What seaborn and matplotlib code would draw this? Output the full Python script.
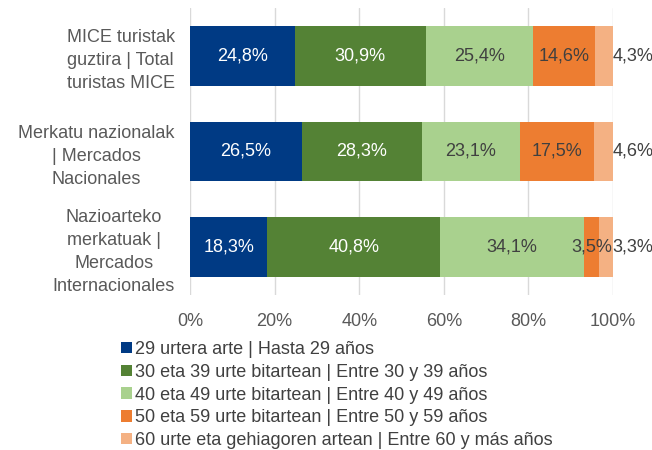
import matplotlib
matplotlib.use("Agg")
import matplotlib.pyplot as plt
import seaborn as sns
import pandas as pd
import numpy as np
from matplotlib.patches import Patch

categories = ["MICE turistak\nguztira | Total\nturistas MICE",
              "Merkatu nazionalak\n| Mercados\nNacionales",
              "Nazioarteko\nmerkatuak |\nMercados\nInternacionales"]
series_names = ["29 urtera arte | Hasta 29 años",
                "30 eta 39 urte bitartean | Entre 30 y 39 años",
                "40 eta 49 urte bitartean | Entre 40 y 49 años",
                "50 eta 59 urte bitartean | Entre 50 y 59 años",
                "60 urte eta gehiagoren artean | Entre 60 y más años"]
s1 = [24.8, 26.5, 18.3]
s2 = [30.9, 28.3, 40.8]
s3 = [25.4, 23.1, 34.1]
s4 = [14.6, 17.5, 3.5]
s5 = [4.3, 4.6, 3.3]
tick_labels = ["0%", "20%", "40%", "60%", "80%", "100%"]

colors = ["#003A84", "#548235", "#A9D18E", "#ED7D31", "#F4B183"]
label_colors = ["white", "white", "#404040", "#404040", "#404040"]

sns.set_theme(style="white")
plt.rcParams['font.family'] = ['Liberation Sans', 'DejaVu Sans']

FS = 13

fig = plt.figure(figsize=(6.52, 4.5), dpi=100)
ax = fig.add_axes([190/652, 1-295/450, (613-190)/652, (295-8)/450])

series = [s1, s2, s3, s4, s5]
vals = np.array(series)
cum = np.cumsum(vals, axis=0)

for i in range(len(series) - 1, -1, -1):
    df = pd.DataFrame({"cat": categories, "val": cum[i]})
    sns.barplot(data=df, x="val", y="cat", orient="h", color=colors[i],
                width=0.625, ax=ax, saturation=1, linewidth=0)

# labels
for i in range(len(series)):
    for j in range(len(categories)):
        v = vals[i][j]
        start = cum[i][j] - v
        txt = f"{v:.1f}%".replace(".", ",")
        if i == len(series) - 1:
            ax.text(99.8, j, txt, ha="left", va="center", fontsize=FS,
                    color=label_colors[i], clip_on=False)
        else:
            ax.text(start + v / 2, j, txt, ha="center", va="center",
                    fontsize=FS, color=label_colors[i])

ax.set_xlim(0, 100)
ax.set_ylim(2.5, -0.5)
ax.set_xticks([0, 20, 40, 60, 80, 100])
ax.set_xticklabels(tick_labels)
ax.set_xlabel("")
ax.set_ylabel("")
ax.grid(axis="x", color="#D9D9D9", linewidth=1)
ax.set_axisbelow(True)
for sp in ax.spines.values():
    sp.set_visible(False)
ax.tick_params(axis="both", length=0, labelsize=FS, colors="#595959")
ax.tick_params(axis="x", pad=13)
ax.tick_params(axis="y", pad=11)
for t in ax.get_yticklabels():
    t.set_multialignment("center")
    t.set_linespacing(1.45)

handles = [Patch(facecolor=c, edgecolor="none") for c in colors]
fig.legend(handles, series_names, loc="upper left",
           bbox_to_anchor=(121/652, 1-341/450), frameon=False,
           fontsize=FS, handlelength=0.6, handleheight=0.6,
           handletextpad=0.2, labelspacing=0.32, labelcolor="#404040",
           borderaxespad=0, borderpad=0)

fig.savefig("out.png", dpi=100)
